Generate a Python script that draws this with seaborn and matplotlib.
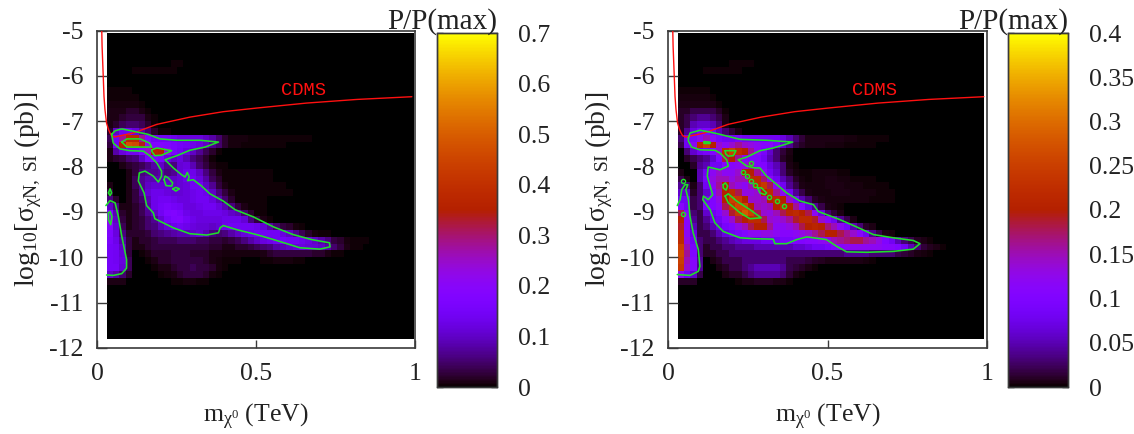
import numpy as np
import matplotlib
matplotlib.use('Agg')
import matplotlib.pyplot as plt
from matplotlib.colors import ListedColormap
import seaborn as sns

#%% DATA
# cells of P/P(max) in units of 0.01, one list per row from the top, trailing zeros left out
left_rows = {
    4: [0,0,0,0,0,0,0,0,0,0,.4,.4],
    5: [0,0,0,0,.4,.4,.4,.4,.4,.4,.4],
    8: [.4,.4,.4,.4],
    9: [.4,.4,.4,.4,.4],
    10: [.6,.6,.6,.6,.6,.4],
    11: [1,1,1,2,2,1,.4],
    12: [1,1,2,3,3,3,1,.4],
    13: [1,2,4,5,5,4,2,.4],
    14: [2,10,14,14,12,8,5,2,.4,.4],
    15: [4,15,28,38,38,28,18,14,14,14,13,12,12,12,12,10,8,5,2,.6,.6,.6,.5,.5,.5,.5,.4,.4,.4,.4,.4,.4],
    16: [3,14,36,48,46,34,22,18,18,17,16,15,14,13,12,10,7,5,2,.6,.6,.5,.5,.5,.4,.4,.4,.4],
    17: [1,8,12,14,14,18,25,36,35,22,16,14,12,10,7,4,2,.5],
    18: [1,2,3,5,6,10,16,18,16,12,10,12,9,6,4,2,.5],
    19: [0,0,1,2,3,4,6,8,10,7,6,11,12,9,5,3,1,.4,.4],
    20: [0,0,0,1,3,6,7,7,8,6,7,11,13,13,10,6,3,1,.4,.4,.4,.4,.4,.4,.4,.4],
    21: [0,0,0,1,4,7,9,9,9,10,10,11,13,14,12,8,4,2,.4,.4,.4,.4,.4,.4,.4,.4],
    22: [1,0,0,1,4,7,10,11,11,11,10,11,12,14,14,10,7,3,1,.4,.4,.4,.4,.4,.4,.4,.4,.4],
    23: [3,0,0,1,3,7,11,13,13,12,11,11,12,13,14,13,10,6,3,1,.4,.4,.4,.4,.4,.4,.4,.4,.4],
    24: [6,2,0,1,3,5,9,13,14,14,13,12,12,13,14,14,12,9,5,2,.5,.4,.4,.4,.4],
    25: [10,6,1,1,2,4,8,13,15,16,15,14,12,12,13,14,14,12,9,6,3,1,.4,.4,.4],
    26: [18,9,2,1,2,4,7,10,14,17,18,16,13,12,12,13,13,13,12,10,9,5,2,.5,.4],
    27: [22,10,3,1,2,3,5,7,11,15,17,18,15,13,12,12,12,12,13,13,13,11,6,3,1,.4],
    28: [20,11,4,1,2,3,5,6,9,11,13,14,13,12,11,11,10,11,13,14,14,14,14,13,11,8,5,3,2,.6,.4],
    29: [17,12,6,2,2,2,3,5,6,7,8,9,9,10,11,9,6,5,6,8,10,12,13,14,14,14,14,12,10,7,4,2,.6,.5,.4],
    30: [16,13,8,3,1,2,2,3,4,4,4,5,5,5,4,4,3,3,2,3,4,6,8,10,12,13,14,15,14,14,13,12,10,8,6,3,2,.6,.5,.4,.4],
    31: [15,14,10,3,1,1,2,3,3,3,3,3,3,3,3,3,2,2,1,1,2,2,3,4,5,6,8,9,10,11,12,11,11,10,8,5,3,1,.5,.4],
    32: [15,14,11,3,0,.5,1,2,2,2,3,3,3,2,2,2,1,1,.6,.6,.6,.6,.6,.6,1,2,3,3,3,3,3,3,2,2,1,.5,.4],
    33: [15,14,12,4,0,0,.5,1,2,2,3,3,3,3,3,2,1,.6,.5,.5,.4,0,0,0,.4,.5,.6,.6,.6,.5,.4],
    34: [15,15,11,4,0,0,0,.5,1,1,2,3,3,4,3,3,2,.6,.4],
    35: [10,8,5,2,0,0,0,0,.5,.6,1,2,3,3,3,2,.6,.4],
    36: [1,1,1,0,0,0,0,0,0,0,.4,.5,.6,.6,.5,.4],
}
right_rows = {
    4: [0,0,0,0,0,0,0,0,.3,.3,.3,.3],
    5: [0,0,0,0,.3,.3,.3,.3,.3,.3],
    8: [.3,.3,.3,.3,.3],
    9: [.4,.4,.4,.4,.4,.3],
    10: [.6,.6,.6,.6,.6,.5,.3],
    11: [1,1,2,2,2,2,1,.3],
    12: [1,2,3,4,4,3,2,.5],
    13: [1,2,5,6,6,5,3,.6],
    14: [1,4,7,9,10,8,5,3,1.5,.5],
    15: [3,8,9,12,15,12,9,8,8,9,8,8,8,8,8,8,7,5,3,1.5,.6,.6,.5,.5,.5,.5,.4,.4,.3,.3,.3,.3,.3],
    16: [2,8,12,22,25,20,14,12,14,16,14,13,12,11,11,9,6,4,2,1,.5,.5,.5,.4,.4,.4,.3,.3,.3,.3,.3],
    17: [0,3,6,8,9,10,14,22,25,22,20,16,12,9,6,3,1.5,.5],
    18: [0,1,2,3,4,6,10,18,20,16,12,10,10,8,5,3,1,.4],
    19: [0,0,1,4,5,8,8,11,11,12,13,16,10,10,7,5,3,.6,.3],
    20: [.5,0,0,5,8,12,14,12,12,14,20,20,16,12,8,6,3,1,.4,.3,.3,.4,.4,.4,.4,.3,.3],
    21: [2,.5,0,5,9,13,15,15,13,15,15,22,22,17,12,8,5,3,1,.4,.3,.4,.4,.5,.5,.4,.4,.3,.3,.3,.3],
    22: [4,3,.5,3,8,12,16,20,15,13,12,15,22,24,18,12,8,4,2,.6,.4,.4,.4,.5,.5,.5,.4,.4,.4,.3,.3,.3,.3],
    23: [6,6,1,3,6,10,15,20,22,18,13,13,14,20,22,16,12,8,4,2,.6,.4,.4,.4,.5,.5,.5,.4,.4,.4,.4,.3,.3,.3],
    24: [8,8,2,3,8,10,13,20,25,24,20,14,14,15,20,22,20,14,9,5,3,1,.5,.4,.4,.4,.4,.4,.4,.4,.3,.3,.3,.3],
    25: [11,8,2,3,9,10,12,18,23,26,26,20,15,14,15,20,22,20,16,11,7,4,2,.6,.4,.3],
    26: [18,10,3,2,6,8,10,14,19,24,28,25,18,14,13,15,18,21,22,20,18,12,7,3,1.5,.5],
    27: [20,11,4,2,4,7,8,11,14,18,20,22,22,18,14,13,14,16,19,22,22,19,14,11,8,4,2,.6],
    28: [19,11,5,2,3,5,7,9,10,13,15,18,20,20,16,12,12,13,15,18,20,21,20,17,15,12,9,5,3,1,.5],
    29: [22,12,7,2,2,3,5,7,8,9,10,12,12,13,13,12,11,11,12,13,14,16,18,20,20,18,16,14,11,8,4,2,.6,.4],
    30: [22,13,8,3,2,2,3,4,5,6,7,7,7,8,8,8,9,9,10,10,11,11,12,13,15,16,17,18,18,16,15,13,10,8,5,3,2,.8,.5,.3],
    31: [25,15,9,3,1,2,2,3,3,4,4,4,5,5,5,5,5,5,6,6,7,8,8,9,10,11,12,12,12,12,12,12,11,11,10,8,5,3,1.5,.8,.5,.3],
    32: [26,16,10,3,1,1,2,2,3,3,3,3,3,3,3,3,3,3,3,3,3,3,3,3,3,3,4,4,4,4,3,3,3,3,2,1.5,1,.6,.4,.3],
    33: [25,15,11,4,0,.6,1,2,2,2,3,3,3,3,3,3,3,2,2,2,1.5,1,.8,.6,.6,.6,.6,.5,.5,.4,.3],
    34: [24,14,11,4,0,0,.6,1,2,2,3,4,5,5,5,5,4,2,1.5,1,.5,.3],
    35: [12,8,6,2,0,0,0,.6,1,1,2,3,4,4,4,4,3,1.5,.6,.3],
    36: [1,1,1,0,0,0,0,0,0,.3,.5,.6,.8,.8,.8,.6,.5,.3],
}
n_rows = 45
n_cols = 48

# CDMS limit, same in both panels
cdms_m = [.015,.016,.018,.020,.022,.025,.030,.036,.041,.046,.056,.067,.114,.188,.292,.397,.502,.659,.817,.990]
cdms_s = [-5.01,-5.35,-5.71,-6.08,-6.45,-6.74,-7.04,-7.18,-7.26,-7.32,-7.35,-7.33,-7.26,-7.07,-6.91,-6.79,-6.71,-6.60,-6.52,-6.46]

# green contours (m, log sigma)
left_contours = [
    ([.046,.057,.078,.114,.161,.198,.251,.324,.382,.340,.292,.251,.214,.240,.266,.277,.284,.290,.285,.303,.329,.355,.397,.434,.492,.555,.617,.675,.731,.733,.701,.638,.565,.502,.439,.397,.387,.382,.345,.292,.240,.182,.177,.156,.148,.130,.133,.151,.177,.193,.203,.203,.188,.167,.146,.104,.072,.051,.046],
     [-7.29,-7.21,-7.17,-7.22,-7.29,-7.39,-7.42,-7.42,-7.46,-7.57,-7.64,-7.76,-7.85,-8.03,-8.18,-8.23,-8.13,-8.23,-8.31,-8.29,-8.43,-8.60,-8.76,-8.95,-9.11,-9.33,-9.50,-9.61,-9.68,-9.77,-9.82,-9.79,-9.63,-9.50,-9.39,-9.30,-9.35,-9.46,-9.51,-9.48,-9.35,-9.15,-9.02,-8.86,-8.58,-8.32,-8.14,-8.10,-8.21,-8.34,-8.21,-8.10,-7.92,-7.77,-7.66,-7.65,-7.61,-7.48,-7.29]),
    ([.078,.094,.135,.165,.172,.135,.094,.078], [-7.46,-7.39,-7.39,-7.48,-7.57,-7.57,-7.57,-7.46]),
    ([.172,.188,.235,.203,.182,.172,.172], [-7.63,-7.59,-7.65,-7.75,-7.76,-7.66,-7.63]),
    ([.211,.214,.224,.238,.235,.217,.211], [-8.29,-8.21,-8.25,-8.36,-8.43,-8.42,-8.29]),
    ([.238,.248,.259,.248,.238], [-8.49,-8.46,-8.49,-8.54,-8.49]),
    ([.036,.041,.046,.041,.036], [-8.58,-8.49,-8.58,-8.64,-8.58]),
    ([.028,.041,.057,.067,.078,.093,.093,.078,.051,.030], [-8.86,-8.75,-8.80,-9.10,-9.54,-10.05,-10.24,-10.36,-10.40,-10.39]),
    ([.036,.041,.047,.043,.036,.036], [-9.02,-8.99,-9.10,-9.28,-9.17,-9.02]),
]
right_contours = [
    ([.064,.069,.100,.132,.163,.226,.309,.391,.330,.288,.247,.220,.247,.273,.288,.309,.335,.372,.414,.456,.471,.539,.591,.644,.706,.769,.790,.769,.706,.623,.560,.529,.497,.435,.403,.372,.335,.330,.268,.226,.173,.147,.132,.109,.111,.126,.140,.132,.123,.126,.163,.189,.184,.163,.147,.100,.074,.064,.064],
     [-7.37,-7.26,-7.20,-7.24,-7.29,-7.40,-7.42,-7.46,-7.59,-7.65,-7.79,-7.85,-7.99,-8.03,-8.03,-8.21,-8.36,-8.58,-8.76,-8.84,-8.99,-9.17,-9.33,-9.50,-9.57,-9.63,-9.70,-9.82,-9.87,-9.89,-9.88,-9.76,-9.61,-9.55,-9.61,-9.70,-9.70,-9.60,-9.59,-9.57,-9.43,-9.24,-8.95,-8.73,-8.65,-8.73,-8.62,-8.43,-8.21,-8.01,-8.07,-7.99,-7.85,-7.70,-7.64,-7.63,-7.57,-7.44,-7.37]),
    ([.113,.132,.132,.113,.113], [-7.45,-7.46,-7.49,-7.49,-7.45]),
    ([.179,.213,.205,.189,.181,.179], [-7.65,-7.65,-7.76,-7.77,-7.72,-7.65]),
    ([.281,.293,.309,.304,.288,.281], [-8.47,-8.47,-8.58,-8.62,-8.58,-8.47]),
    ([.173,.180,.187,.182,.173,.173], [-8.40,-8.36,-8.43,-8.52,-8.47,-8.40]),
    ([.179,.189,.215,.257,.292,.257,.226,.189,.179], [-8.65,-8.60,-8.76,-8.95,-9.13,-9.15,-9.02,-8.80,-8.65]),
    ([.029,.038,.043,.053,.062,.056,.064,.069,.079,.095,.100,.095,.069,.029], [-8.86,-8.73,-8.51,-8.40,-8.40,-8.51,-8.73,-9.10,-9.46,-9.83,-10.20,-10.31,-10.40,-10.38]),
]
# tiny closed contours in the right panel
spots_m = [.261,.234,.248,.261,.274,.318,.341,.364,.046,.046]
spots_s = [-7.93,-8.13,-8.21,-8.31,-8.40,-8.68,-8.77,-8.86,-8.31,-9.04]

x_ticks = [0, 0.5, 1]
x_labels = ['0', '0.5', '1']
y_ticks = [-12, -11, -10, -9, -8, -7, -6, -5]
y_labels = ['-12', '-11', '-10', '-9', '-8', '-7', '-6', '-5']
left_cb_ticks = [0, 0.1, 0.2, 0.3, 0.4, 0.5, 0.6, 0.7]
left_cb_labels = ['0', '0.1', '0.2', '0.3', '0.4', '0.5', '0.6', '0.7']
right_cb_ticks = [0, 0.05, 0.1, 0.15, 0.2, 0.25, 0.3, 0.35, 0.4]
right_cb_labels = ['0', '0.05', '0.1', '0.15', '0.2', '0.25', '0.3', '0.35', '0.4']

#%% STYLE
sns.set_theme(style='white')
plt.rcParams['font.family'] = ['Liberation Serif', 'DejaVu Serif']
plt.rcParams['mathtext.fontset'] = 'custom'
plt.rcParams['mathtext.rm'] = 'Liberation Serif'
plt.rcParams['mathtext.it'] = 'Liberation Serif:italic'
plt.rcParams['axes.unicode_minus'] = False

# gnuplot default pm3d palette (rgbformulae 7,5,15)
gray = np.linspace(0, 1, 256)
pm3d = ListedColormap(np.column_stack([np.sqrt(gray), gray**3, np.clip(np.sin(2*np.pi*gray), 0, 1)]))

W, H = 1134, 434
FRAME = '#3a3a3a'
GREEN = '#1fe02a'


def grid_from_rows(rows):
    grid = np.zeros((n_rows, n_cols))
    for i, vals in rows.items():
        grid[i, :len(vals)] = vals
    return grid / 100


def px_axes(fig, x0, x1, y0, y1):
    return fig.add_axes([x0/W, 1 - y1/H, (x1-x0)/W, (y1-y0)/H])


def panel(fig, box, cbox, rows, vmax, heat_right, contours, cb_ticks, cb_labels):
    ax = px_axes(fig, *box)
    ax.set_xlim(0, 1)
    ax.set_ylim(-12, -5)

    heat_ax = ax.inset_axes([0.03, -11.8, heat_right - 0.03, 6.75], transform=ax.transData, zorder=0)
    cax = px_axes(fig, *cbox)
    sns.heatmap(grid_from_rows(rows), ax=heat_ax, cmap=pm3d, vmin=0, vmax=vmax,
                xticklabels=False, yticklabels=False, cbar_ax=cax)
    heat_ax.tick_params(left=False, bottom=False)

    ax.plot(cdms_m, cdms_s, color='#ff1010', lw=1.0, zorder=3)
    for cx, cy in contours:
        ax.plot(cx, cy, color=GREEN, lw=1.15, zorder=4)
    ax.text(0.578, -6.32, 'CDMS', color='#ff1010', fontsize=13.5, family='Liberation Mono',
            ha='left', va='center')

    ax.set_xticks(x_ticks, x_labels)
    ax.set_yticks(y_ticks, y_labels)
    ax.tick_params(axis='x', direction='in', length=6, width=1, color=FRAME,
                   labelsize=18.5, pad=11, labelcolor='#222222', bottom=True)
    ax.tick_params(axis='y', direction='in', length=7.2, width=1, color=FRAME,
                   labelsize=18.5, pad=9.5, labelcolor='#222222', left=True)
    for s in ax.spines.values():
        s.set_visible(True)
        s.set_color(FRAME)
        s.set_linewidth(1.2)
    ax.set_xlabel(r'$\mathrm{m_{\chi^0}\ (TeV)}$', fontsize=18.5, labelpad=12, color='#222222')
    ax.set_ylabel(r'$\mathrm{log_{10}[\sigma_{\chi N,\ SI}\ (pb)]}$', fontsize=20, labelpad=4, color='#222222')

    cax.set_yticks(cb_ticks, cb_labels)
    cax.tick_params(axis='y', direction='in', length=4.5, width=1, left=True, right=True,
                    color='#222222', labelsize=18.5, pad=15, labelcolor='#222222')
    for s in cax.spines.values():
        s.set_visible(True)
        s.set_color(FRAME)
        s.set_linewidth(1)
    cax.text(1.0, 1.011, 'P/P(max)', transform=cax.transAxes, ha='right', va='baseline',
             fontsize=21, color='#222222')
    return ax


#%% PLOT
fig = plt.figure(figsize=(W/100, H/100), dpi=100)
panel(fig, (97, 415, 30.5, 348), (437, 497, 33, 387), left_rows, 0.7, 0.998,
      left_contours, left_cb_ticks, left_cb_labels)
ax2 = panel(fig, (668, 987, 30.5, 348), (1008, 1068, 33, 387), right_rows, 0.4, 0.992,
            right_contours, right_cb_ticks, right_cb_labels)
ax2.plot(spots_m, spots_s, ls='none', marker='o', ms=3.0, mfc='none', mec=GREEN, mew=1, zorder=4)

fig.savefig('out.png', dpi=100)
